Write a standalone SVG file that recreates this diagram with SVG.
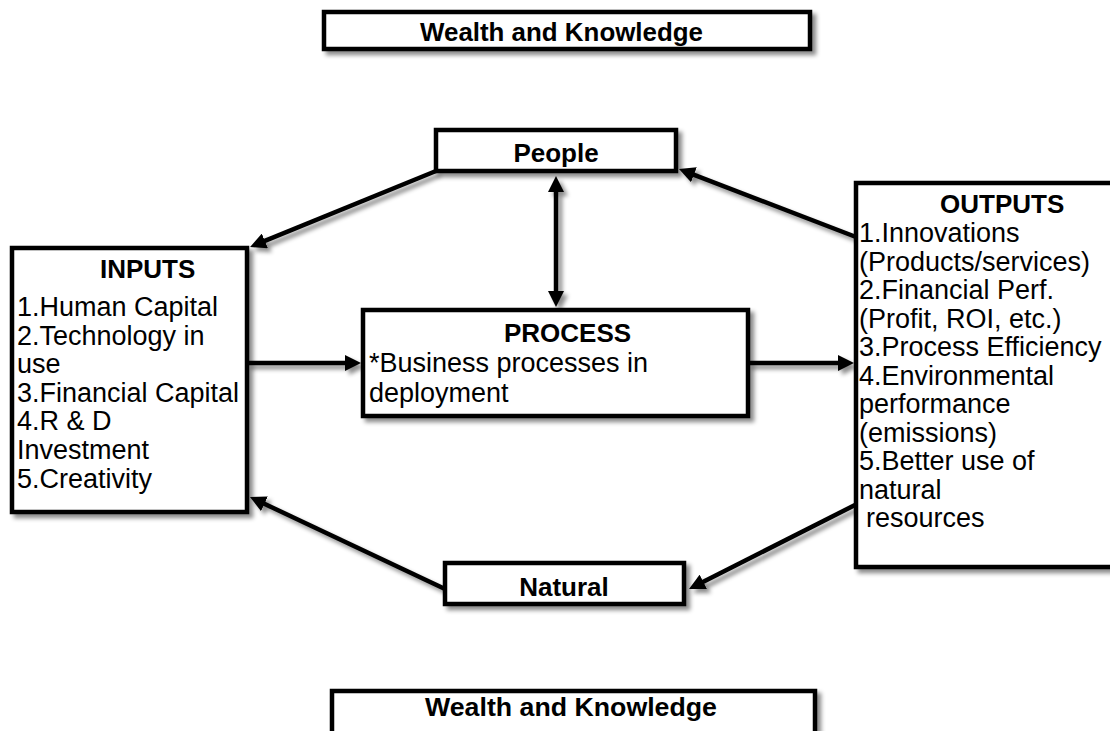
<svg xmlns="http://www.w3.org/2000/svg" width="1110" height="731" viewBox="0 0 1110 731">
<style>
.box{fill:#fff;stroke:#000;stroke-width:4.5}
.h{font-family:"Liberation Sans",Arial,sans-serif;font-weight:bold;font-size:26px;fill:#000}
.b{font-family:"Liberation Sans",Arial,sans-serif;font-size:27px;fill:#000}
.c{fill:none;stroke:#000;stroke-width:4.5}
</style>
<defs>
<filter id="sh" x="-10%" y="-10%" width="130%" height="140%">
<feDropShadow dx="4" dy="4" stdDeviation="2" flood-color="#000" flood-opacity="0.45"/>
</filter>
<marker id="ah" viewBox="0 0 16 16" refX="6" refY="8" markerWidth="16" markerHeight="16" markerUnits="userSpaceOnUse" orient="auto-start-reverse">
<path d="M0,0 L16,8 L0,16 z" fill="#000"/>
</marker>
</defs>
<rect width="1110" height="731" fill="#fff"/>

<g id="connectors" filter="url(#sh)">
<line class="c" x1="436" y1="171" x2="259.3" y2="243.2" marker-end="url(#ah)"/>
<line class="c" x1="856" y1="237" x2="688.3" y2="172.6" marker-end="url(#ah)"/>
<line class="c" x1="556" y1="186" x2="556" y2="297" marker-start="url(#ah)" marker-end="url(#ah)"/>
<line class="c" x1="247" y1="363" x2="351" y2="363" marker-end="url(#ah)"/>
<line class="c" x1="748" y1="363" x2="844" y2="363" marker-end="url(#ah)"/>
<line class="c" x1="855" y1="505" x2="697.9" y2="584.5" marker-end="url(#ah)"/>
<line class="c" x1="445" y1="589" x2="259" y2="501.3" marker-end="url(#ah)"/>
</g>

<g id="wealth-top">
<rect class="box" x="324" y="12" width="486" height="37" filter="url(#sh)"/>
<text class="h" x="420" y="41" textLength="283" lengthAdjust="spacingAndGlyphs">Wealth and Knowledge</text>
</g>

<g id="people">
<rect class="box" x="436" y="130" width="240" height="41" filter="url(#sh)"/>
<text class="h" x="556" y="162" text-anchor="middle">People</text>
</g>

<g id="inputs">
<rect class="box" x="12" y="248" width="235" height="264" filter="url(#sh)"/>
<text class="h" x="100" y="278">INPUTS</text>
<text class="b" x="17" y="316">1.Human Capital</text>
<text class="b" x="17" y="345">2.Technology in</text>
<text class="b" x="17" y="373">use</text>
<text class="b" x="17" y="402">3.Financial Capital</text>
<text class="b" x="17" y="430">4.R &amp; D</text>
<text class="b" x="17" y="459">Investment</text>
<text class="b" x="17" y="488">5.Creativity</text>
</g>

<g id="process">
<rect class="box" x="363" y="310" width="385" height="106" filter="url(#sh)"/>
<text class="h" x="504" y="342">PROCESS</text>
<text class="b" x="369" y="372">*Business processes in</text>
<text class="b" x="369" y="402">deployment</text>
</g>

<g id="outputs">
<rect class="box" x="856" y="183" width="300" height="384" filter="url(#sh)"/>
<text class="h" x="940" y="213">OUTPUTS</text>
<text class="b" x="859" y="242">1.Innovations</text>
<text class="b" x="859" y="270.5">(Products/services)</text>
<text class="b" x="859" y="299">2.Financial Perf.</text>
<text class="b" x="859" y="327.5">(Profit, ROI, etc.)</text>
<text class="b" x="859" y="356">3.Process Efficiency</text>
<text class="b" x="859" y="384.5">4.Environmental</text>
<text class="b" x="859" y="413">performance</text>
<text class="b" x="859" y="441.5">(emissions)</text>
<text class="b" x="859" y="470">5.Better use of</text>
<text class="b" x="859" y="498.5">natural</text>
<text class="b" x="866" y="527">resources</text>
</g>

<g id="natural">
<rect class="box" x="445" y="563" width="239" height="41" filter="url(#sh)"/>
<text class="h" x="564" y="596" text-anchor="middle">Natural</text>
</g>

<g id="wealth-bottom">
<rect class="box" x="332" y="691" width="483" height="60" filter="url(#sh)"/>
<text class="h" x="425" y="716" textLength="292" lengthAdjust="spacingAndGlyphs">Wealth and Knowledge</text>
</g>
</svg>
